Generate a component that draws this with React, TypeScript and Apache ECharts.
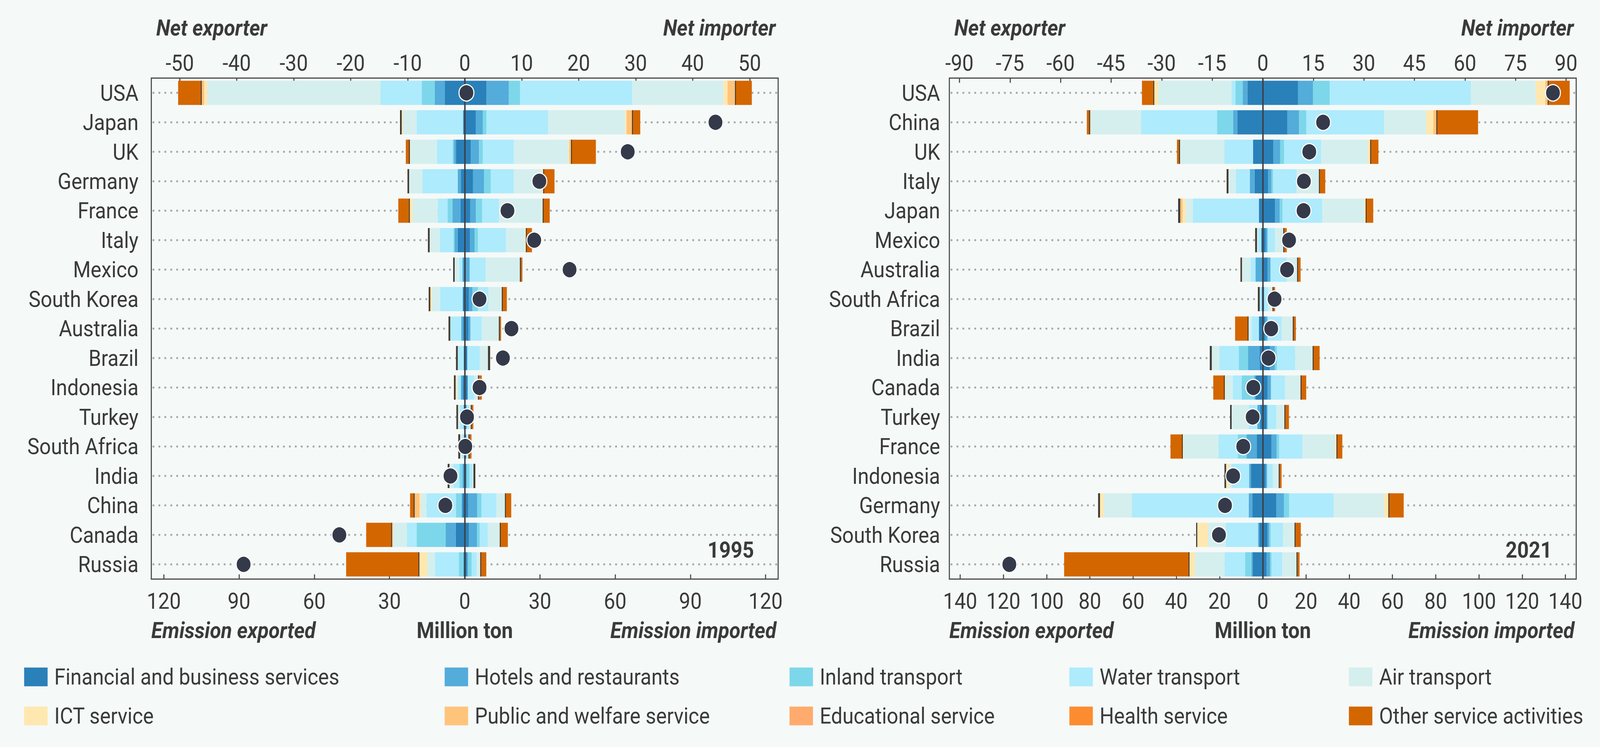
import React, { useEffect, useRef, useState } from 'react';
import * as echarts from 'echarts';

const WIDTH = 4505;
const HEIGHT = 1913;
const BG = '#f5f9f8';
const INK = '#3a3a3a';
const FONT = 'Roboto';

// ---- categories ----
const countries1995 = ['USA', 'Japan', 'UK', 'Germany', 'France', 'Italy', 'Mexico', 'South Korea', 'Australia', 'Brazil', 'Indonesia', 'Turkey', 'South Africa', 'India', 'China', 'Canada', 'Russia'];
const countries2021 = ['USA', 'China', 'UK', 'Italy', 'Japan', 'Mexico', 'Australia', 'South Africa', 'Brazil', 'India', 'Canada', 'Turkey', 'France', 'Indonesia', 'Germany', 'South Korea', 'Russia'];

const sectorNames = ['Financial and business services', 'Hotels and restaurants', 'Inland transport', 'Water transport', 'Air transport', 'ICT service', 'Public and welfare service', 'Educational service', 'Health service', 'Other service activities'];
const sectorColors = ['#2a80b9', '#53acda', '#7dd7ea', '#aeebfc', '#d5efee', '#ffe8b0', '#ffc47c', '#ffab6d', '#fd8c30', '#d46600'];

// ---- 1995, emission exported (million ton) ----
const fin95Exp = [7.9, 0.65, 3.5, 1.5, 1.7, 2.8, 0.4, 0.8, 0.6, 0.4, 0.8, 0.4, 0.25, 0.5, 0.9, 3.6, 0.5];
const hot95Exp = [4.1, 0, 0.8, 1.3, 3.2, 1.2, 0.5, 0, 0.8, 0, 0.7, 0, 0, 0.4, 0.4, 4.0, 0];
const inl95Exp = [5.1, 0, 0.5, 0, 1.9, 0.5, 0, 0, 0, 0, 0, 0, 0, 1.2, 2.2, 11.6, 1.8];
const wat95Exp = [16.5, 18.55, 6.3, 14.1, 4.0, 5.4, 1.3, 9.0, 4.4, 2.4, 1.1, 1.6, 0.8, 2.4, 11.8, 3.9, 9.6];
const air95Exp = [69.1, 5.45, 10.7, 5.3, 10.0, 4.1, 1.8, 3.3, 0, 0, 0.65, 0.7, 0.8, 1.6, 2.3, 5.5, 3.0];
const ict95Exp = [1.2, 0.5, 0, 0, 1.1, 0, 0, 0.65, 0, 0, 0.4, 0, 0, 0, 0.4, 0, 3.2];
const pub95Exp = [1.0, 0, 0.1, 0, 0, 0, 0, 0, 0, 0, 0, 0, 0, 0, 2.0, 0.4, 0];
const edu95Exp = [0, 0, 0, 0, 0, 0, 0, 0, 0, 0, 0, 0, 0, 0, 0, 0, 0];
const hea95Exp = [0, 0, 0, 0, 0, 0, 0, 0, 0, 0, 0, 0, 0, 0, 0, 0, 0];
const oth95Exp = [9.4, 0.65, 1.6, 0.6, 4.6, 0.65, 0.6, 0.6, 0.65, 0.65, 0.65, 0.6, 0.7, 0.7, 1.8, 10.3, 29.2];

// ---- 1995, emission imported ----
const fin95Imp = [8.7, 4.4, 2.4, 3.3, 2.2, 2.1, 0.6, 1.6, 1.5, 1.0, 1.2, 0.5, 0.6, 0.7, 1.4, 1.6, 0.9];
const hot95Imp = [8.9, 2.8, 3.3, 4.4, 2.3, 1.9, 1.4, 1.5, 0.8, 0, 0, 0.3, 0, 0, 3.6, 3.3, 0.4];
const inl95Imp = [4.5, 1.5, 1.5, 2.7, 2.4, 1.3, 0, 2.2, 0, 0, 0, 0, 0, 1.2, 1.7, 1.1, 1.5];
const wat95Imp = [44.7, 24.6, 12.4, 9.2, 6.7, 11.2, 6.3, 4.1, 4.5, 5.0, 2.6, 1.2, 0.8, 1.2, 5.9, 3.2, 2.0];
const air95Imp = [36.4, 30.7, 21.7, 10.9, 17.3, 7.5, 13.7, 5.4, 6.8, 3.3, 1.5, 0.4, 0.1, 0.4, 3.3, 4.7, 1.4];
const ict95Imp = [1.6, 0.5, 0.4, 0.8, 0.2, 0.4, 0, 0, 0, 0, 0, 0, 0, 0, 0.15, 0.1, 0];
const pub95Imp = [3.0, 2.2, 0.7, 0, 0, 0, 0, 0, 0, 0, 0, 0, 0, 0, 0, 0, 0];
const edu95Imp = [0, 0, 0, 0, 0, 0, 0, 0, 0, 0, 0, 0, 0, 0, 0, 0, 0];
const hea95Imp = [0, 0, 0, 0, 0, 0, 0, 0, 0, 0, 0, 0, 0, 0, 0, 0, 0];
const oth95Imp = [6.7, 3.3, 9.9, 4.5, 2.8, 2.4, 1.0, 2.0, 0.9, 0.8, 1.5, 1.05, 1.2, 0.7, 2.5, 3.2, 2.4];

const net1995 = [0.3, 44, 28.6, 13.1, 7.5, 12.2, 18.4, 2.6, 8.2, 6.7, 2.6, 0.4, 0.1, -2.5, -3.4, -22, -38.8];

// ---- 2021, emission exported ----
const fin21Exp = [7.1, 11.8, 4.5, 3.8, 1.8, 0.7, 0.45, 0.45, 1.8, 1.5, 3.2, 1.3, 2.8, 5.5, 4.8, 1.6, 4.7];
const hot21Exp = [2.2, 1.9, 0, 2.2, 0, 0, 2.9, 0, 0, 5.3, 0.8, 1.2, 4.7, 0.8, 1.7, 0.6, 0.5];
const inl21Exp = [3.3, 7.5, 0, 0, 0, 0, 0, 0, 0, 4.3, 5.8, 0, 4.1, 0, 0, 0, 3.0];
const wat21Exp = [1.9, 35.1, 13.3, 6.5, 30.6, 1.5, 2.3, 1.0, 3.3, 9.0, 4.1, 4.0, 8.9, 8.2, 54.1, 15.0, 9.5];
const air21Exp = [33.9, 23.4, 20.5, 3.4, 3.3, 0.5, 4.0, 0, 1.5, 3.5, 3.3, 7.9, 16.2, 1.2, 13.0, 8.2, 13.7];
const ict21Exp = [1.8, 0, 0, 0, 1.4, 0, 0, 0, 0, 0, 0.4, 0, 0.3, 1.3, 1.7, 4.9, 2.5];
const pub21Exp = [0, 0.2, 0, 0, 1.1, 0, 0, 0, 0, 0, 0, 0, 0, 0, 0, 0, 0];
const edu21Exp = [0, 0, 0, 0, 0, 0, 0, 0, 0, 0, 0, 0, 0, 0, 0, 0, 0];
const hea21Exp = [0, 0, 0, 0, 0, 0, 0, 0, 0, 0, 0, 0, 0, 0, 0, 0, 0];
const oth21Exp = [5.7, 1.5, 1.4, 0.8, 0.95, 0.8, 0.65, 0.8, 6.2, 0.9, 5.3, 0.7, 5.7, 0.7, 0.85, 0.5, 58.0];

// ---- 2021, emission imported ----
const fin21Imp = [16.3, 11.4, 4.9, 2.4, 5.7, 1.3, 2.2, 0.6, 1.2, 3.4, 2.2, 1.8, 4.0, 1.3, 6.2, 2.2, 1.8];
const hot21Imp = [6.9, 5.4, 3.1, 1.6, 2.2, 0.9, 1.4, 0, 1.0, 2.2, 1.6, 0.4, 2.4, 0.7, 3.6, 0.8, 1.6];
const inl21Imp = [7.8, 3.4, 1.9, 0.8, 1.2, 0, 0, 0, 0, 1.0, 0, 0, 1.2, 0, 2.4, 0.7, 0.7];
const wat21Imp = [65.2, 35.9, 17.1, 10.9, 18.5, 3.5, 7.5, 1.9, 6.5, 8.4, 6.5, 4.1, 10.8, 2.7, 20.6, 5.7, 4.9];
const air21Imp = [30.1, 19.5, 21.6, 10.3, 19.3, 3.8, 4.8, 2.0, 5.2, 8.1, 7.2, 3.7, 15.2, 2.7, 23.3, 5.3, 6.6];
const ict21Imp = [4.4, 3.3, 1.1, 0, 0.7, 0, 0, 0, 0, 0, 0, 0, 0.5, 0, 2.0, 0, 0];
const pub21Imp = [1.1, 1.4, 0, 0, 0, 0, 0, 0, 0, 0, 0, 0, 0, 0, 0, 0, 0];
const edu21Imp = [0, 0, 0, 0, 0, 0, 0, 0, 0, 0, 0, 0, 0, 0, 0, 0, 0];
const hea21Imp = [0, 0, 0, 0, 0, 0, 0, 0, 0, 0, 0, 0, 0, 0, 0, 0, 0];
const oth21Imp = [10.2, 19.3, 3.8, 2.9, 3.5, 1.6, 1.6, 1.2, 1.4, 3.2, 2.6, 2.1, 2.7, 1.3, 7.1, 2.9, 1.4];

const net2021 = [86.1, 17.9, 13.8, 12.2, 12.1, 7.8, 7.2, 3.5, 2.5, 1.7, -2.8, -3.0, -5.8, -8.8, -11.2, -13.0, -75.2];

// ---- tick labels ----
const netTicks1995 = [-50, -40, -30, -20, -10, 0, 10, 20, 30, 40, 50];
const emTicks1995 = [-120, -90, -60, -30, 0, 30, 60, 90, 120];
const netTicks2021 = [-90, -75, -60, -45, -30, -15, 0, 15, 30, 45, 60, 75, 90];
const emTicks2021 = [-140, -120, -100, -80, -60, -40, -20, 0, 20, 40, 60, 80, 100, 120, 140];

const panels = [
  {
    year: '1995', countries: countries1995, net: net1995,
    exp: [fin95Exp, hot95Exp, inl95Exp, wat95Exp, air95Exp, ict95Exp, pub95Exp, edu95Exp, hea95Exp, oth95Exp],
    imp: [fin95Imp, hot95Imp, inl95Imp, wat95Imp, air95Imp, ict95Imp, pub95Imp, edu95Imp, hea95Imp, oth95Imp],
    netTicks: netTicks1995, emTicks: emTicks1995, netMax: 55, emMax: 125,
    left: 426, labelMargin: 36,
  },
  {
    year: '2021', countries: countries2021, net: net2021,
    exp: [fin21Exp, hot21Exp, inl21Exp, wat21Exp, air21Exp, ict21Exp, pub21Exp, edu21Exp, hea21Exp, oth21Exp],
    imp: [fin21Imp, hot21Imp, inl21Imp, wat21Imp, air21Imp, ict21Imp, pub21Imp, edu21Imp, hea21Imp, oth21Imp],
    netTicks: netTicks2021, emTicks: emTicks2021, netMax: 93, emMax: 145,
    left: 2673, labelMargin: 26,
  },
];

const GRID_TOP = 200;
const GRID_W = 1765;
const GRID_H = 1283;
const BAR_W = 62;
const FS = 57;

function txt(text: string, x: number, y: number, align: string, italic = true, bold = true) {
  return {
    type: 'text', x, y, silent: true,
    style: {
      text, fill: INK, fontFamily: FONT, fontSize: FS,
      fontWeight: bold ? 'bold' : 'normal', fontStyle: italic ? 'italic' : 'normal',
      align, verticalAlign: 'middle', textAlign: align, textVerticalAlign: 'middle',
    },
  };
}

function buildOption(): any {
  const grid: any[] = [];
  const xAxis: any[] = [];
  const yAxis: any[] = [];
  const series: any[] = [];
  const graphic: any[] = [];

  panels.forEach((p, pi) => {
    grid.push({
      left: p.left, top: GRID_TOP, width: GRID_W, height: GRID_H,
      show: true, borderColor: '#474747', borderWidth: 3, backgroundColor: 'transparent',
    });
    const tickStyle = { show: true, inside: true, length: 12, lineStyle: { color: '#474747', width: 3 } };
    xAxis.push({
      type: 'value', gridIndex: pi, position: 'top', min: -p.netMax, max: p.netMax,
      axisLine: { show: false }, splitLine: { show: false },
      axisTick: { ...tickStyle, customValues: p.netTicks },
      axisLabel: { customValues: p.netTicks, fontSize: FS, color: INK, fontFamily: FONT, margin: 10 },
    });
    xAxis.push({
      type: 'value', gridIndex: pi, position: 'bottom', min: -p.emMax, max: p.emMax,
      axisLine: { show: false }, splitLine: { show: false },
      axisTick: { ...tickStyle, customValues: p.emTicks },
      axisLabel: {
        customValues: p.emTicks, fontSize: FS, color: INK, fontFamily: FONT, margin: 28,
        formatter: (v: number) => String(Math.abs(v)),
      },
    });
    yAxis.push({
      type: 'category', gridIndex: pi, data: p.countries, inverse: true,
      axisLine: { show: false }, axisTick: { show: false }, splitLine: { show: false },
      axisLabel: { fontSize: FS, color: INK, fontFamily: FONT, margin: p.labelMargin },
    });

    // dotted guide line through each country
    series.push({
      type: 'custom', xAxisIndex: pi * 2 + 1, yAxisIndex: pi, silent: true, z: 1,
      data: p.countries.map((_, i) => [0, i]),
      encode: { x: 0, y: 1 },
      renderItem: (params: any, api: any) => {
        const cs = params.coordSys;
        const y = api.coord([0, api.value(1)])[1];
        return {
          type: 'line',
          shape: { x1: cs.x + 6, y1: y, x2: cs.x + cs.width - 4, y2: y },
          style: { stroke: '#a9a9a9', lineWidth: 5.5, lineDash: [0.1, 16.6], lineCap: 'round' },
        };
      },
    });

    const stack = 'stack' + pi;
    sectorNames.forEach((name, si) => {
      series.push({
        type: 'bar', name, stack, xAxisIndex: pi * 2 + 1, yAxisIndex: pi, barWidth: BAR_W, z: 2, silent: true,
        itemStyle: { color: sectorColors[si] },
        data: p.exp[si].map((v) => -v),
      });
    });
    sectorNames.forEach((name, si) => {
      series.push({
        type: 'bar', name, stack, xAxisIndex: pi * 2 + 1, yAxisIndex: pi, barWidth: BAR_W, z: 2, silent: true,
        itemStyle: { color: sectorColors[si] },
        data: p.imp[si],
      });
    });

    // dark edge on the inner side of each "other service activities" segment
    const edgeData: number[][] = [];
    p.countries.forEach((_, i) => {
      const inExp = p.exp.slice(0, 9).reduce((s, arr) => s + arr[i], 0);
      const inImp = p.imp.slice(0, 9).reduce((s, arr) => s + arr[i], 0);
      if (p.exp[9][i] > 0) edgeData.push([-inExp, i, -1, p.exp[9][i]]);
      if (p.imp[9][i] > 0) edgeData.push([inImp, i, 1, p.imp[9][i]]);
    });
    series.push({
      type: 'custom', xAxisIndex: pi * 2 + 1, yAxisIndex: pi, silent: true, z: 3,
      data: edgeData,
      encode: { x: 0, y: 1 },
      renderItem: (params: any, api: any) => {
        const side = api.value(2);
        const pt = api.coord([api.value(0), api.value(1)]);
        const end = api.coord([api.value(0) + side * api.value(3), api.value(1)]);
        const segW = Math.abs(end[0] - pt[0]);
        const w = segW < 6 ? segW : 2.5;
        return {
          type: 'rect',
          shape: { x: side > 0 ? pt[0] : pt[0] - w, y: pt[1] - BAR_W / 2, width: w, height: BAR_W },
          style: { fill: '#3b3b3b' },
        };
      },
    });

    series.push({
      type: 'scatter', name: 'Net ' + p.year, xAxisIndex: pi * 2, yAxisIndex: pi, z: 10, silent: true,
      symbolSize: 42,
      itemStyle: { color: '#343a4a', borderColor: '#ffffff', borderWidth: 3, opacity: 1 },
      data: p.net.map((v, i) => [v, i]),
      markLine: {
        silent: true, symbol: ['none', 'none'], z: 5, label: { show: false },
        lineStyle: { color: '#3d3f45', width: 4, type: 'solid' },
        data: [{ xAxis: 0 }],
      },
    });

    const l = p.left;
    const r = p.left + GRID_W;
    const c = p.left + GRID_W / 2;
    graphic.push(txt('Net exporter', l + 14, 71, 'left'));
    graphic.push(txt('Net importer', r - 7, 71, 'right'));
    graphic.push(txt('Emission exported', l, 1614, 'left'));
    graphic.push(txt('Million ton', c, 1614, 'center', false));
    graphic.push(txt('Emission imported', r - 5, 1614, 'right'));
    graphic.push(txt(p.year, r - 68, 1408, 'right', false));
  });

  const legendCols = [[0, 5], [1, 6], [2, 7], [3, 8], [4, 9]];
  const legendLeft = [63, 1247, 2218, 3006, 3793];
  const legend = legendCols.map((col, ci) => ({
    orient: 'vertical', left: legendLeft[ci], top: 1700, itemWidth: 66, itemHeight: 48, itemGap: 43,
    icon: 'rect', selectedMode: false,
    data: col.map((si) => sectorNames[si]),
    textStyle: { fontSize: FS, color: INK, fontFamily: FONT, padding: [0, 0, 0, 14] },
  }));

  return {
    animation: false,
    backgroundColor: BG,
    textStyle: { fontFamily: FONT },
    grid, xAxis, yAxis, series, legend, graphic,
  };
}

// the layout is drawn in the reference's 4505 x 1913 pixel space and stretched to fill the viewport
function viewportScale() {
  const w = window.innerWidth || document.documentElement.clientWidth || WIDTH;
  const h = window.innerHeight || document.documentElement.clientHeight || HEIGHT;
  return { sx: w / WIDTH, sy: h / HEIGHT };
}

export default function App() {
  const chartRef = useRef<HTMLDivElement>(null);
  const [scale] = useState(viewportScale);

  useEffect(() => {
    if (!chartRef.current) return;
    const chart = echarts.init(chartRef.current, null, { renderer: 'svg', width: WIDTH, height: HEIGHT });
    chart.setOption(buildOption());
    return () => {
      chart.dispose();
    };
  }, []);

  return (
    <div style={{ position: 'fixed', left: 0, top: 0, width: '100vw', height: '100vh', overflow: 'hidden', background: BG }}>
      <div
        ref={chartRef}
        style={{
          width: `${WIDTH}px`, height: `${HEIGHT}px`, background: BG,
          transform: `scale(${scale.sx}, ${scale.sy})`, transformOrigin: '0 0',
        }}
      />
    </div>
  );
}
